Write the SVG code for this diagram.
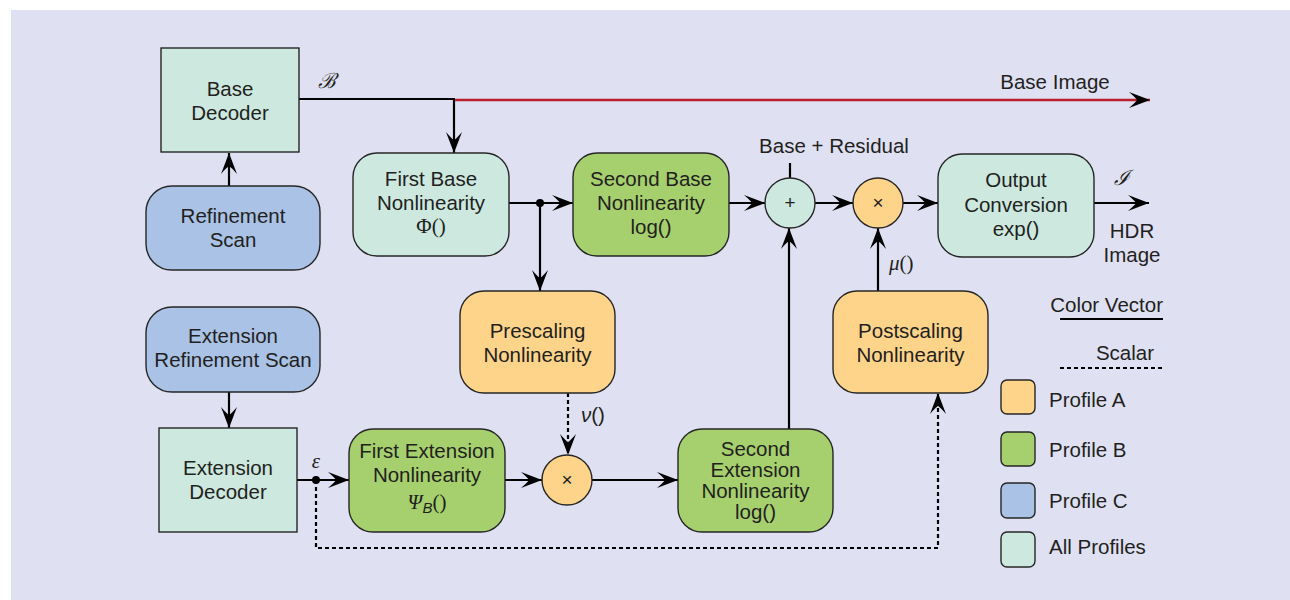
<svg xmlns="http://www.w3.org/2000/svg" width="1290" height="600" viewBox="0 0 1290 600">
  <defs>
    <marker id="arrow" viewBox="-22 -9 23 18" refX="0" refY="0" markerWidth="23" markerHeight="18" markerUnits="userSpaceOnUse" orient="auto">
      <path d="M0,0 L-21,-8 Q-14,-2 -13,0 Q-14,2 -21,8 Z" fill="#000"/>
    </marker>
    <style>
      .box { stroke: #262626; stroke-width: 1.4; }
      .teal { fill: #cce8df; }
      .green { fill: #a6d06e; }
      .blue { fill: #a9c2e6; }
      .orange { fill: #fed48b; }
      .t { font-family: "Liberation Sans", Arial, sans-serif; font-size: 20.5px; fill: #231f20; text-anchor: middle; }
      .lg { font-family: "Liberation Sans", Arial, sans-serif; font-size: 20.5px; fill: #231f20; }
      .math { font-family: "Liberation Serif", "DejaVu Serif", serif; font-size: 21px; fill: #231f20; }
      .op { font-family: "Liberation Sans", Arial, sans-serif; font-size: 19px; fill: #231f20; text-anchor: middle; }
      .w { fill: none; stroke: #000; stroke-width: 2.2; }
      .arr { marker-end: url(#arrow); }
      .dash { stroke-dasharray: 4 3; }
    </style>
  </defs>

  <!-- panel -->
  <rect x="11" y="10" width="1279" height="590" fill="#dfe1f2"/>

  <!-- connectors -->
  <g id="connectors">
    <line class="w arr" x1="229" y1="186" x2="229" y2="153"/>
    <polyline class="w" points="299,99 455,99"/>
    <line class="w arr" x1="454" y1="99" x2="454" y2="153"/>
    <line class="arr" x1="455" y1="100" x2="1150" y2="100" stroke="#b91f2d" stroke-width="2.4"/>
    <line class="w arr" x1="509" y1="203" x2="573" y2="203"/>
    <circle cx="540" cy="203" r="4" fill="#000"/>
    <line class="w arr" x1="540" y1="203" x2="540" y2="291"/>
    <line class="w arr" x1="729" y1="203" x2="765" y2="203"/>
    <line class="w arr" x1="815" y1="203" x2="853" y2="203"/>
    <line class="w arr" x1="903" y1="203" x2="938" y2="203"/>
    <line class="w arr" x1="1094" y1="203" x2="1149" y2="203"/>
    <line class="w" x1="790" y1="163" x2="790" y2="178"/>
    <line class="w arr" x1="789" y1="429" x2="789" y2="228"/>
    <line class="w arr" x1="878" y1="291" x2="878" y2="228"/>
    <line class="w arr dash" x1="568" y1="393" x2="568" y2="455"/>
    <line class="w arr" x1="229" y1="392" x2="229" y2="428"/>
    <line class="w arr" x1="297" y1="480" x2="349" y2="480"/>
    <circle cx="316" cy="480" r="4" fill="#000"/>
    <line class="w arr" x1="505" y1="480" x2="542" y2="480"/>
    <line class="w arr" x1="592" y1="480" x2="678" y2="480"/>
    <polyline class="w arr dash" points="316,480 316,548 938,548 938,393"/>
  </g>

  <!-- signal labels -->
  <text class="math" x="318" y="88" font-style="italic">ℬ</text>
  <text class="math" x="316" y="468" font-style="italic" text-anchor="middle">ε</text>
  <text class="math" x="1114" y="185" font-style="italic">ℐ</text>
  <text class="lg" x="1055" y="89" text-anchor="middle">Base Image</text>
  <text class="lg" x="834" y="153" text-anchor="middle">Base + Residual</text>
  <text class="lg" x="1132" y="238" text-anchor="middle">HDR</text>
  <text class="lg" x="1132" y="262" text-anchor="middle">Image</text>
  <text class="lg" x="581" y="422"><tspan font-style="italic">ν</tspan>()</text>
  <text class="math" x="889" y="270"><tspan font-style="italic">μ</tspan>()</text>

  <g id="base-decoder">
    <rect class="box teal" x="161" y="48" width="138" height="104"/>
    <text class="t" x="230" y="96">Base</text>
    <text class="t" x="230" y="120">Decoder</text>
  </g>

  <g id="refinement-scan">
    <rect class="box blue" x="146" y="186" width="174" height="84" rx="26"/>
    <text class="t" x="233" y="223">Refinement</text>
    <text class="t" x="233" y="247">Scan</text>
  </g>

  <g id="first-base-nonlinearity">
    <rect class="box teal" x="353" y="153" width="156" height="103" rx="24"/>
    <text class="t" x="431" y="186">First Base</text>
    <text class="t" x="431" y="210">Nonlinearity</text>
    <text class="math" x="431" y="233" text-anchor="middle">Φ()</text>
  </g>

  <g id="second-base-nonlinearity">
    <rect class="box green" x="573" y="153" width="156" height="103" rx="24"/>
    <text class="t" x="651" y="186">Second Base</text>
    <text class="t" x="651" y="210">Nonlinearity</text>
    <text class="t" x="651" y="234">log()</text>
  </g>

  <g id="sum">
    <circle class="box teal" cx="790" cy="203" r="25"/>
    <text class="op" x="790" y="209">+</text>
  </g>

  <g id="postscale-multiply">
    <circle class="box orange" cx="878" cy="203" r="25"/>
    <text class="op" x="878" y="209">×</text>
  </g>

  <g id="output-conversion">
    <rect class="box teal" x="938" y="154" width="156" height="103" rx="24"/>
    <text class="t" x="1016" y="187">Output</text>
    <text class="t" x="1016" y="212">Conversion</text>
    <text class="t" x="1016" y="236">exp()</text>
  </g>

  <g id="prescaling-nonlinearity">
    <rect class="box orange" x="460" y="291" width="155" height="102" rx="24"/>
    <text class="t" x="537.5" y="338">Prescaling</text>
    <text class="t" x="537.5" y="362">Nonlinearity</text>
  </g>

  <g id="postscaling-nonlinearity">
    <rect class="box orange" x="833" y="291" width="155" height="102" rx="24"/>
    <text class="t" x="910.5" y="338">Postscaling</text>
    <text class="t" x="910.5" y="362">Nonlinearity</text>
  </g>

  <g id="extension-refinement-scan">
    <rect class="box blue" x="146" y="307" width="174" height="85" rx="26"/>
    <text class="t" x="233" y="343">Extension</text>
    <text class="t" x="233" y="367">Refinement Scan</text>
  </g>

  <g id="extension-decoder">
    <rect class="box teal" x="159" y="428" width="138" height="104"/>
    <text class="t" x="228" y="475">Extension</text>
    <text class="t" x="228" y="499">Decoder</text>
  </g>

  <g id="first-extension-nonlinearity">
    <rect class="box green" x="349" y="429" width="156" height="103" rx="24"/>
    <text class="t" x="427" y="458">First Extension</text>
    <text class="t" x="427" y="482">Nonlinearity</text>
    <text class="math" x="427" y="509" text-anchor="middle"><tspan font-style="italic">Ψ</tspan><tspan font-family="Liberation Sans, sans-serif" font-style="italic" font-size="15" dy="4">B</tspan><tspan dy="-4">()</tspan></text>
  </g>

  <g id="prescale-multiply">
    <circle class="box orange" cx="567" cy="480" r="25"/>
    <text class="op" x="567" y="486">×</text>
  </g>

  <g id="second-extension-nonlinearity">
    <rect class="box green" x="678" y="429" width="155" height="103" rx="24"/>
    <text class="t" x="755.5" y="456">Second</text>
    <text class="t" x="755.5" y="477">Extension</text>
    <text class="t" x="755.5" y="498">Nonlinearity</text>
    <text class="t" x="755.5" y="519">log()</text>
  </g>

  <!-- legend -->
  <g id="legend">
    <text class="lg" x="1163" y="312" text-anchor="end">Color Vector</text>
    <line x1="1060" y1="319" x2="1163" y2="319" stroke="#000" stroke-width="2"/>
    <text class="lg" x="1154" y="360" text-anchor="end">Scalar</text>
    <line x1="1060" y1="368" x2="1163" y2="368" stroke="#000" stroke-width="2" stroke-dasharray="4 3"/>
    <rect class="box orange" x="1001" y="380" width="34" height="34" rx="6"/>
    <text class="lg" x="1049" y="407">Profile A</text>
    <rect class="box green" x="1001" y="432" width="34" height="34" rx="6"/>
    <text class="lg" x="1049" y="457">Profile B</text>
    <rect class="box blue" x="1001" y="483" width="34" height="35" rx="6"/>
    <text class="lg" x="1049" y="508">Profile C</text>
    <rect class="box teal" x="1001" y="532" width="34" height="35" rx="6"/>
    <text class="lg" x="1049" y="554">All Profiles</text>
  </g>
</svg>
